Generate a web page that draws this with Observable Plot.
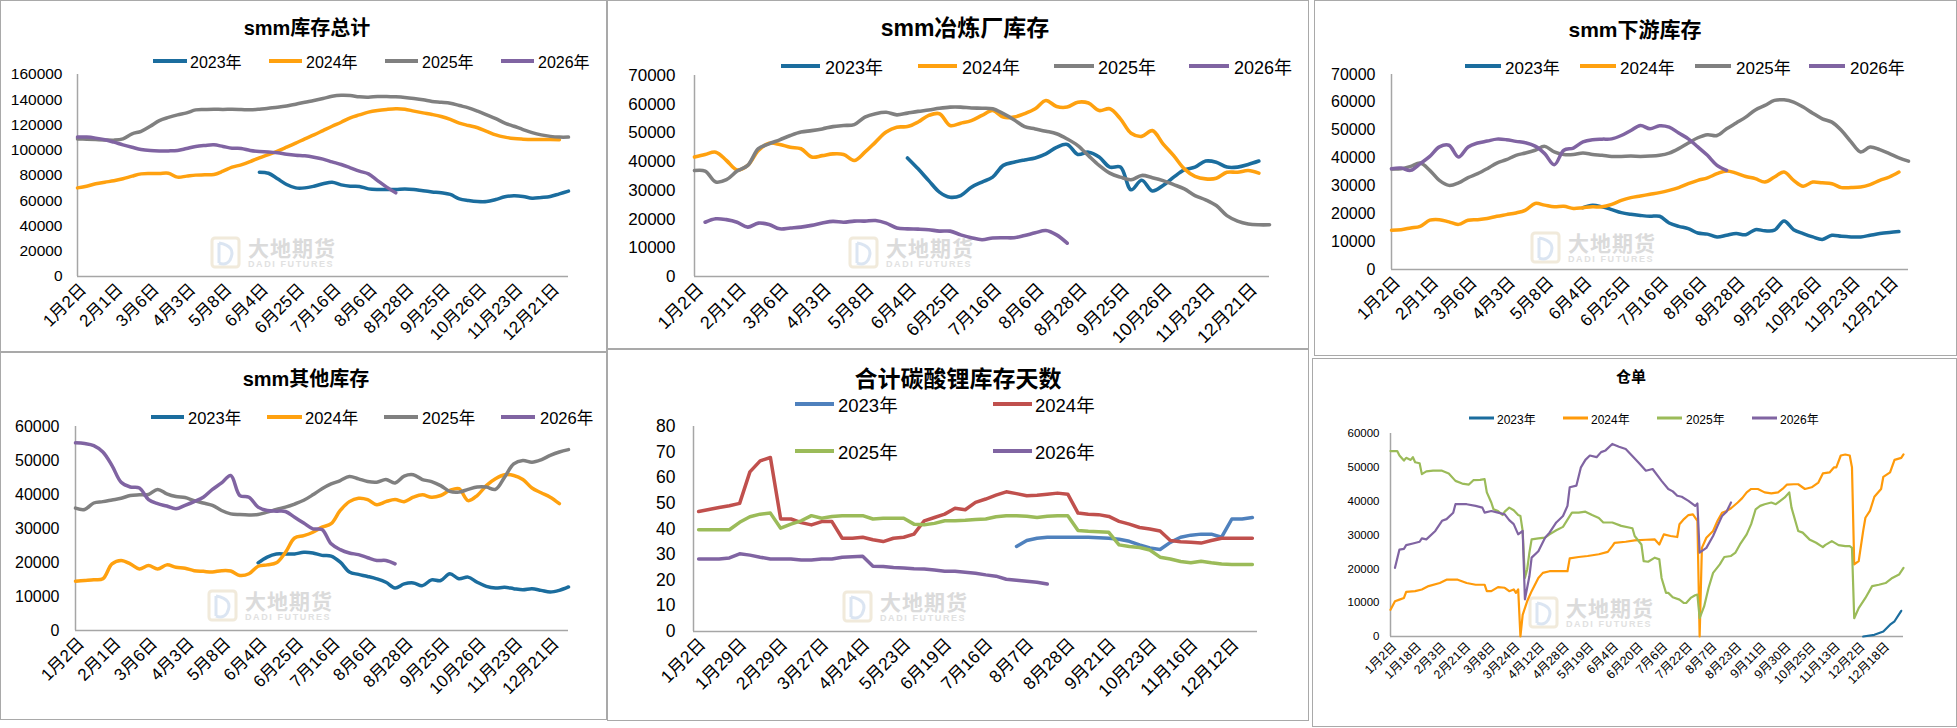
<!DOCTYPE html>
<html><head><meta charset="utf-8">
<script src="https://cdn.jsdelivr.net/npm/d3@7"></script>
<script src="https://cdn.jsdelivr.net/npm/@observablehq/plot@0.6"></script>
<style>
body{margin:0;background:#fff;width:1957px;height:728px;overflow:hidden;position:relative;font-family:"Liberation Sans","Noto Sans CJK SC",sans-serif;}
.box{position:absolute;box-sizing:border-box;border:1.5px solid #a9a9a9;background:#fff;}
.title{position:absolute;transform:translate(-50%,-50%);font-weight:bold;white-space:nowrap;color:#000;}
.lgl{position:absolute;transform:translateY(-50%);}
.lgt{position:absolute;transform:translateY(-50%);white-space:nowrap;color:#000;}
.wm{position:absolute;opacity:0.5;pointer-events:none;}
svg{overflow:visible;}
</style>
</head><body>
<script>
// ---------- shared category labels ----------
const weekLabels = ["1月2日","2月1日","3月6日","4月3日","5月8日","6月4日","6月25日","7月16日","8月6日","8月28日","9月25日","10月26日","11月23日","12月21日"];
const daysLabels = ["1月2日","1月29日","2月29日","3月27日","4月24日","5月23日","6月19日","7月16日","8月7日","8月28日","9月21日","10月23日","11月16日","12月12日"];
const cangdanLabels = ["1月2日","1月18日","2月3日","2月21日","3月8日","3月24日","4月12日","4月28日","5月19日","6月4日","6月20日","7月6日","7月22日","8月7日","8月23日","9月11日","9月30日","10月25日","11月13日","12月2日","12月18日"];
const years = ["2023年","2024年","2025年","2026年"];

// ---------- smm库存总计 ----------
const total2023 = [null,null,null,null,null,null,null,null,null,null,null,null,null,null,null,null,null,null,null,null,
 82600,81800,77400,72900,70200,70200,71500,73400,74700,72600,71500,71300,69400,68900,69000,69000,69400,69000,67900,67000,66300,65000,61500,60200,59400,59400,61000,63100,63900,63400,62000,62600,63400,65500,67600];
const total2024 = [70200,71500,73400,74700,75800,77400,79500,81300,81600,81600,81800,78700,79500,80300,80500,80800,83400,86600,88400,91000,94000,96600,99300,102400,105600,109000,112200,115600,119000,122200,125700,128000,130200,131500,132300,132800,132500,131000,129600,128300,126700,124400,121500,119600,117800,115000,112200,110400,109300,108800,108500,108500,108600,108300];
const total2025 = [109000,108800,108500,108200,108000,109000,113000,115000,119000,123500,126000,128000,129600,132000,132300,132500,132300,132500,132300,132000,132500,133300,134000,135000,136500,138000,139400,141000,142800,143600,143400,142300,142000,142600,142600,142300,141800,141000,140000,138600,138000,137300,135400,133600,131000,128000,125000,121500,119000,116400,114000,112200,111000,110400,110400];
const total2026 = [110400,110400,109600,108300,106400,104300,102400,100600,99800,99500,99500,99800,101400,103000,103800,104300,103000,101600,101400,99800,99000,98700,98000,96900,96100,95600,94500,93000,90800,88700,86100,83400,81300,76000,70800,66300];

// ---------- smm冶炼厂库存 ----------
const smelter2023 = [null,null,null,null,null,null,null,null,null,null,null,null,null,null,null,null,null,null,null,null,
 41300,37500,33400,29400,27600,28200,31100,32900,34600,38700,39800,40600,41300,42700,45000,46000,42500,43300,41600,38100,38100,30200,33500,29800,31700,34600,37100,38100,40200,39800,38100,38100,39000,40200];
const smelter2024 = [41600,42500,43300,40400,37100,38700,43900,46400,46000,45000,44500,41600,42100,42700,42500,40400,43300,46800,50300,52000,52200,53800,56100,56700,52600,53400,54300,56100,57800,55500,55500,56700,58400,61300,59200,59000,60700,60400,57800,58400,54900,49900,48800,50800,46200,42100,37500,34900,34000,34200,36300,36300,36900,36000];
const smelter2025 = [36900,36700,32900,33700,36700,38700,44500,46200,47600,49100,50300,50800,51400,52200,52600,52900,55500,56700,57200,56300,56900,57500,58000,58600,59000,59000,58700,58600,58400,56700,54600,52200,51400,50600,49700,47900,45600,42100,38700,36000,34600,33700,35200,34400,33400,32000,30500,28200,26700,24700,21200,19300,18300,18000,18000];
const smelter2026 = [null,18900,20100,19800,18900,17200,18600,18100,16600,16900,17200,17800,18600,19200,18900,19300,19300,19500,18600,16900,16600,16500,16300,15800,15800,14500,13500,12800,13400,13500,13500,14300,15200,16000,14500,11600];

// ---------- smm下游库存 ----------
const down2023 = [null,null,null,null,null,null,null,null,null,null,null,null,null,null,null,null,null,null,null,null,
 22200,23100,22500,21500,20400,19800,19400,19100,19100,16700,15500,14700,13100,12700,11700,12300,12900,12500,14300,13900,14100,17400,14300,12900,11700,10800,12300,11900,11700,11700,12300,12900,13300,13600];
const down2024 = [14100,14300,14900,15500,17700,17900,17100,16200,17700,17900,18300,19100,19700,20300,21300,23700,23100,22500,22700,21900,22200,22500,22500,23400,24800,25800,26400,27000,27600,28400,29400,30800,32000,32900,34400,35400,34600,33400,32600,31400,33200,35000,32000,29900,31400,31100,30800,29400,29400,29600,30500,32000,33200,35000];
const down2025 = [36100,36200,37000,38200,35600,32000,30200,31100,33000,34400,36200,38200,39400,41000,41800,42800,44200,42200,41300,41300,41800,41300,41000,40600,40600,40700,40600,40700,41000,41800,43400,45400,47300,48400,48100,50500,52600,54700,57300,58900,60700,60900,60100,58300,56100,54100,52900,49900,45800,42200,44000,43000,41600,40100,38900];
const down2026 = [36200,36400,35600,38000,40600,44000,44600,40400,44000,45400,46100,46800,46600,46000,45500,44300,41600,37600,42800,43600,45800,46600,46800,46900,48100,49900,51700,50500,51600,51100,49000,46900,44000,41000,37400,35600];

// ---------- smm其他库存 ----------
const other2023 = [null,null,null,null,null,null,null,null,null,null,null,null,null,null,null,null,null,null,null,null,
 19900,21600,22500,22500,22500,23000,22800,22100,21900,20100,17200,16500,15900,15200,14200,12500,13700,14000,13200,14900,14700,16700,15200,15700,14200,13000,12500,12700,12300,12000,12300,11800,11300,11800,12800];
const other2024 = [14500,14700,14900,15200,19600,20600,19600,18100,19100,18100,19300,18600,18300,17600,17400,17200,17600,17500,16200,16700,18900,19300,19900,23000,27200,27900,28900,30400,31400,35300,37900,38900,38500,37000,37900,38500,37900,39200,39900,39200,39700,41200,41700,38200,39700,42600,44600,45800,45600,44400,41900,40500,39200,37300];
const other2025 = [36000,35600,37500,37900,38400,38900,39700,39900,40000,41500,40200,39400,39100,38200,37500,36800,35300,34300,34100,34000,34100,34800,35600,36300,37200,38300,39900,41700,43100,44100,45300,44600,43800,43600,44400,43400,45400,45800,44400,43800,42600,40900,40700,41500,42200,42200,41500,45100,49000,50000,49500,50200,51500,52500,53200];
const other2026 = [55200,55000,54400,52500,48500,43600,42200,41900,38500,37300,36600,35800,36800,37900,39200,41500,43400,45600,39700,39200,36300,35300,35100,35000,33300,31600,29900,29700,25500,23800,22800,22300,21400,20600,20600,19600];

// ---------- 合计碳酸锂库存天数 ----------
const days2023 = [null,null,null,null,null,null,null,null,null,null,null,null,null,null,null,null,null,null,null,null,null,null,null,null,null,null,null,null,null,null,null,
 33.2,35.5,36.4,36.8,36.8,36.8,36.8,36.8,36.6,36.4,36,35.2,33.8,32.6,32,34.8,36.8,37.6,38,38,36.8,43.9,43.9,44.5];
const days2024 = [46.8,47.6,48.4,49.1,50,62.3,66.6,67.9,43.9,43.9,42.5,41.6,42.9,42.9,36.4,36.4,36.8,35.8,35.1,36.4,36.8,38,43.2,44.5,45.8,48.1,47.5,50.4,51.7,53.2,54.5,53.8,53,53.2,53.6,54,53.6,46.2,45.8,45.6,44.9,43,41.9,40.6,40,39.2,35.5,35,34.8,34.5,35.5,36.4,36.4,36.4,36.4];
const days2025 = [39.7,39.7,39.7,39.7,42.6,44.8,45.8,46.2,40.3,41.9,43.2,45.2,44.2,44.9,45.2,45.2,45.2,43.9,44.2,44.2,44.2,41.9,41.7,42.2,43.2,43.2,43.4,43.7,43.9,44.8,45.2,45.2,45,44.5,45,45.2,45.2,39.4,39.1,38.9,38.7,33.8,33.2,32.8,31.8,29,28.3,27.3,26.8,27.4,26.8,26.3,26.1,26.1,26.1];
const days2026 = [28.3,28.3,28.3,28.7,30.3,29.8,29,28.3,28.3,28.3,27.9,27.9,28.3,28.3,29,29.2,29.4,25.5,25.4,25,24.8,24.5,24.4,24,23.5,23.5,23.1,22.7,22.1,21.6,20.4,20,19.6,19.2,18.5];

// ---------- 仓单 (trading-day index, value) ----------
const cd2023 = [[211,0],[216,500],[220,1500],[223,3500],[225,4500],[228,7600]];
const cd2024 = [[0,7900],[2,10400],[4,10900],[6,11400],[7,13200],[11,13400],[14,13900],[17,14900],[22,15800],[25,16800],[30,16800],[34,15800],[38,15300],[42,15300],[43,13400],[45,13400],[48,14600],[51,14400],[53,13400],[55,13900],[56,12900],[57,13900],[58,0],[59,6400],[61,10400],[63,13400],[66,17300],[68,18800],[71,19300],[75,19300],[79,19300],[80,23100],[84,23500],[88,23800],[93,24300],[97,25000],[99,26700],[100,27700],[105,28000],[109,28400],[114,28600],[118,28700],[120,27200],[122,30200],[125,29700],[128,29400],[129,33200],[131,34700],[133,35900],[135,36100],[137,34200],[138,0],[139,26200],[141,29200],[144,31200],[146,34200],[148,36600],[150,37100],[152,37900],[155,39600],[157,40900],[159,42600],[161,43600],[164,43600],[167,42600],[170,42300],[173,42600],[175,43600],[177,44900],[180,45000],[182,45000],[185,43600],[188,44100],[191,45500],[193,48200],[196,48500],[198,50000],[199,50000],[201,53500],[203,53800],[205,53500],[206,50000],[207,21300],[209,22300],[211,31200],[212,35100],[214,37100],[216,41300],[219,43600],[220,47200],[223,48500],[225,52200],[228,52800],[229,53800]];
const cd2025 = [[0,54800],[3,54800],[4,53500],[6,52000],[7,52800],[9,52200],[10,53000],[11,51500],[13,51200],[14,48000],[16,48800],[19,49000],[23,49000],[26,48200],[29,46000],[32,45200],[35,44900],[37,46200],[40,46300],[42,46500],[43,42600],[45,39600],[46,37600],[48,37100],[50,35900],[51,36900],[53,38100],[55,37300],[57,35900],[58,35600],[59,31200],[60,17300],[61,19800],[62,24800],[63,28700],[66,29000],[69,29200],[71,30200],[74,31400],[77,32400],[80,35600],[81,36600],[84,36600],[87,36900],[90,35900],[93,35000],[95,33700],[99,33700],[103,32700],[108,32000],[109,29700],[112,27200],[113,22300],[115,22100],[118,23300],[120,22800],[121,17300],[123,12900],[124,12900],[126,11600],[129,10900],[131,9900],[132,9900],[134,11400],[136,12200],[137,12400],[138,5400],[140,8900],[142,14400],[144,18800],[147,21300],[149,23500],[152,23800],[154,24800],[156,27200],[159,30200],[161,33200],[163,37600],[165,38600],[167,39100],[170,39600],[172,39100],[174,40100],[176,41100],[178,42600],[179,38100],[182,31200],[184,30700],[187,28700],[190,27700],[193,26400],[194,27000],[197,28200],[200,27000],[203,26700],[205,26700],[206,26200],[207,5400],[209,8400],[212,11400],[215,14900],[218,15300],[221,15800],[224,17300],[227,18300],[229,20300]];
const cd2026 = [[2,20300],[4,25700],[6,25900],[7,27000],[10,27500],[13,28000],[14,29000],[16,28700],[20,31200],[23,34200],[25,34700],[28,36600],[29,39100],[34,39100],[38,38600],[41,38100],[42,36600],[45,37100],[48,36600],[51,36100],[53,34400],[55,33200],[57,30200],[59,31200],[60,11000],[62,17800],[63,23300],[66,25200],[69,29200],[71,30700],[74,33700],[77,35600],[79,38600],[80,44100],[83,44600],[85,50000],[87,52200],[89,53500],[92,53000],[94,54500],[96,55000],[99,56900],[102,56100],[105,55400],[107,54000],[111,51200],[114,49000],[117,49500],[121,46000],[124,43600],[126,42900],[128,41600],[130,41300],[133,40100],[136,38600],[137,39300],[138,24800],[141,26200],[144,29700],[146,32700],[148,35600],[150,36900],[152,39600]];

// ---------- colours ----------
const smmColors = ["#1b6d9e","#ffa10f","#808080","#8064a2"];
const daysColors = ["#4f81bd","#c0504d","#9bbb59","#8064a2"];
const cdColors = ["#1b6d9e","#ff9a0a","#9bbb59","#8064a2"];

const FONT = '"Liberation Sans","Noto Sans CJK SC",sans-serif';

function el(tag, cls, style, html){const e=document.createElement(tag); if(cls) e.className=cls; Object.assign(e.style, style||{}); if(html!=null) e.innerHTML=html; document.body.appendChild(e); return e;}

function seriesFromArray(arr){return arr.map((v,i)=>({x:i,y:v})).filter(d=>d.y!=null);}
function seriesFromPairs(arr){return arr.map(([x,y])=>({x,y}));}

function watermark(x,y){
  const w = el("div","wm",{left:x+"px",top:y+"px",width:"130px",height:"34px"});
  w.innerHTML = `<svg width="32" height="34" style="position:absolute;left:0;top:0">
    <rect x="2" y="2" width="27" height="29" rx="3" fill="none" stroke="#e4d6b8" stroke-width="3"/>
    <path d="M9 7 L9 27 M9 7 Q27 10 20 24 Q16 30 9 27" fill="none" stroke="#b9cde6" stroke-width="3"/></svg>
    <div style="position:absolute;left:38px;top:1px;height:21px;line-height:21px;font-weight:bold;font-size:21px;font-family:'Noto Sans CJK SC';color:#b8b8b8;letter-spacing:1px;white-space:nowrap">大地期货</div>
    <div style="position:absolute;left:38px;top:24px;height:9px;line-height:9px;font-weight:bold;font-size:9px;font-family:'Liberation Sans';color:#c4c4c4;letter-spacing:1.6px;white-space:nowrap">DADI FUTURES</div>`;
}

function panel(cfg){
  const [bx,by,bw,bh] = cfg.box;
  const [L,T,R,B] = cfg.plot;
  el("div","box",{left:bx+"px",top:by+"px",width:bw+"px",height:bh+"px"});
  watermark(cfg.wm[0], cfg.wm[1]);
  const marks = [
    Plot.ruleX([cfg.xDomain[0]],{stroke:"#a6a6a6",strokeWidth:1.5}),
    Plot.ruleY([cfg.yDomain[0]],{stroke:"#a6a6a6",strokeWidth:1.5}),
    Plot.axisY({ticks:cfg.yTicks,tickSize:0,tickPadding:cfg.yPad,fontSize:cfg.yFont,tickFormat:d=>String(d),label:null}),
    Plot.axisX({ticks:cfg.xTicks,tickSize:0,tickPadding:cfg.xPad,dx:cfg.xDx,tickRotate:-45,fontSize:cfg.xFont,tickFormat:d=>cfg.xLabels[cfg.xTicks.indexOf(d)],label:null})
  ];
  cfg.series.forEach((s,k)=>{
    marks.push(Plot.line(s,{x:"x",y:"y",stroke:cfg.colors[k],strokeWidth:cfg.sw,curve:cfg.curve,strokeLinejoin:"round",strokeLinecap:"round"}));
  });
  const chart = Plot.plot({
    width:bw, height:bh,
    marginLeft:L-bx, marginRight:bx+bw-R, marginTop:T-by, marginBottom:by+bh-B,
    x:{domain:cfg.xDomain}, y:{domain:cfg.yDomain},
    style:{background:"transparent",fontFamily:FONT,color:"#000",overflow:"visible"},
    marks
  });
  chart.style.position="absolute"; chart.style.left=bx+"px"; chart.style.top=by+"px";
  document.body.appendChild(chart);
  el("div","title",{left:cfg.title[1]+"px",top:cfg.title[2]+"px",fontSize:cfg.title[3]+"px"},cfg.title[0]);
  cfg.legend.forEach(([k,x1,x2,tx,y])=>{
    el("div","lgl",{left:x1+"px",top:y+"px",width:(x2-x1)+"px",height:cfg.lgH+"px",background:cfg.colors[k]});
    el("div","lgt",{left:tx+"px",top:y+"px",fontSize:cfg.lgFont+"px"},years[k]);
  });
}

const wTicks = [0,4,8,12,16,20,24,28,32,36,40,44,48,52];
const cdTicks = d3.range(0,221,11);

panel({box:[0,0,607,352],plot:[77,74,568,276],wm:[210,236],
  title:["smm库存总计",307,26,20],
  legend:[[0,153,187,190,61],[1,269,302,306,61],[2,385,418,422,61],[3,501,534,538,61]],lgFont:16,lgH:4,
  xDomain:[0,54],yDomain:[0,160000],yTicks:d3.range(0,160001,20000),xTicks:wTicks,xLabels:weekLabels,
  yPad:15,yFont:15.5,xPad:10,xDx:6,xFont:17,sw:3.5,curve:"catmull-rom",colors:smmColors,
  series:[total2023,total2024,total2025,total2026].map(seriesFromArray)});

panel({box:[607,0,702,349],plot:[694,75,1269,276],wm:[848,236],
  title:["smm冶炼厂库存",965,26,23],
  legend:[[0,781,820,825,66],[1,918,957,962,66],[2,1054,1094,1098,66],[3,1189,1229,1234,66]],lgFont:18,lgH:4,
  xDomain:[0,54],yDomain:[0,70000],yTicks:d3.range(0,70001,10000),xTicks:wTicks,xLabels:weekLabels,
  yPad:19,yFont:17,xPad:10,xDx:6,xFont:18,sw:3.6,curve:"catmull-rom",colors:smmColors,
  series:[smelter2023,smelter2024,smelter2025,smelter2026].map(seriesFromArray)});

panel({box:[1314,0,643,356],plot:[1391,74,1908,269],wm:[1530,231],
  title:["smm下游库存",1635,28,21],
  legend:[[0,1465,1501,1505,66],[1,1580,1616,1620,66],[2,1695,1731,1736,66],[3,1809,1845,1850,66]],lgFont:17,lgH:4,
  xDomain:[0,54],yDomain:[0,70000],yTicks:d3.range(0,70001,10000),xTicks:wTicks,xLabels:weekLabels,
  yPad:16,yFont:16,xPad:10,xDx:6,xFont:17,sw:3.5,curve:"catmull-rom",colors:smmColors,
  series:[down2023,down2024,down2025,down2026].map(seriesFromArray)});

panel({box:[0,352,607,368],plot:[75,426,568,630],wm:[207,589],
  title:["smm其他库存",306,377,20],
  legend:[[0,151,184,188,417],[1,267,302,305,417],[2,384,418,422,417],[3,501,535,540,417]],lgFont:16.5,lgH:4,
  xDomain:[0,54],yDomain:[0,60000],yTicks:d3.range(0,60001,10000),xTicks:wTicks,xLabels:weekLabels,
  yPad:16,yFont:16,xPad:10,xDx:6,xFont:17,sw:3.5,curve:"catmull-rom",colors:smmColors,
  series:[other2023,other2024,other2025,other2026].map(seriesFromArray)});

panel({box:[607,349,702,372],plot:[693,426,1257,631],wm:[842,590],
  title:["合计碳酸锂库存天数",958,377,23],
  legend:[[0,795,834,838,404],[1,993,1032,1035,404],[2,795,834,838,451],[3,993,1032,1035,451]],lgFont:18.5,lgH:4,
  xDomain:[-0.5,54.5],yDomain:[0,80],yTicks:d3.range(0,81,10),xTicks:wTicks,xLabels:daysLabels,
  yPad:18,yFont:17.5,xPad:10,xDx:4,xFont:17.5,sw:3.5,curve:"linear",colors:daysColors,
  series:[days2023,days2024,days2025,days2026].map(seriesFromArray)});

panel({box:[1312,358,645,369],plot:[1390,433,1903,636],wm:[1528,596],
  title:["仓单",1631,375,15],
  legend:[[0,1469,1494,1497,418],[1,1563,1588,1591,418],[2,1657,1682,1686,418],[3,1752,1777,1780,418]],lgFont:12,lgH:3,
  xDomain:[0,229],yDomain:[0,60000],yTicks:d3.range(0,60001,10000),xTicks:cdTicks,xLabels:cangdanLabels,
  yPad:11,yFont:11.5,xPad:8,xDx:4,xFont:12.5,sw:2.2,curve:"linear",colors:cdColors,
  series:[cd2023,cd2024,cd2025,cd2026].map(seriesFromPairs)});
</script>
</body></html>
